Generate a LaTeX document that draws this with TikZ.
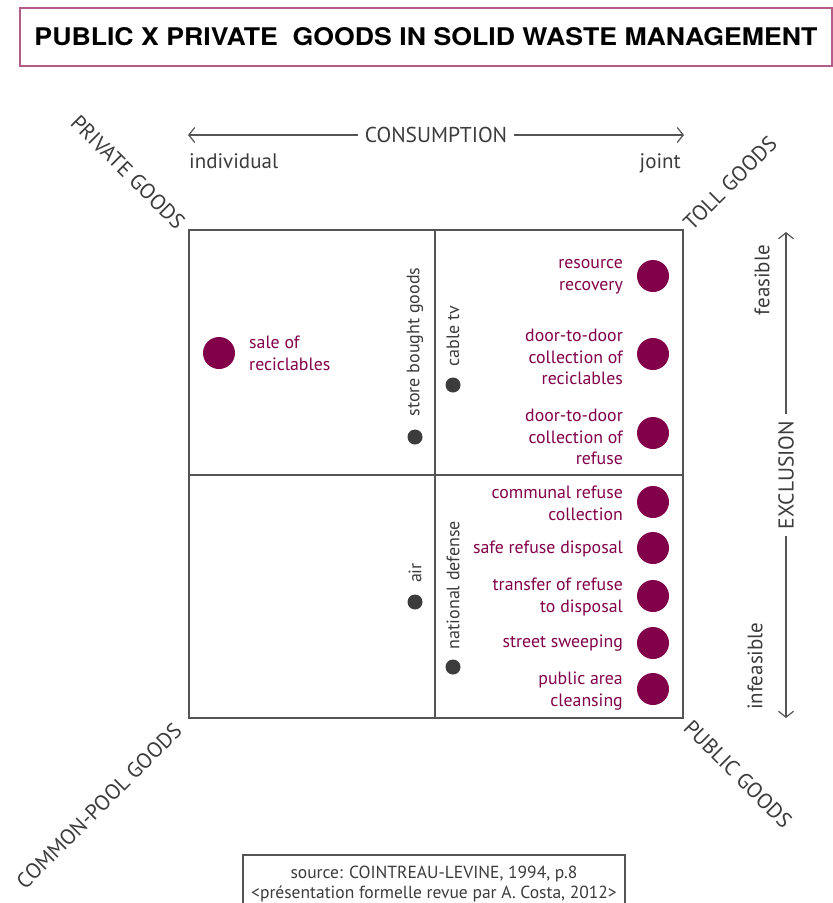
\documentclass[tikz,border=0pt]{standalone}
\usepackage{fontspec}
\setmainfont{PT Sans}
\newfontfamily\titlefont{TeX Gyre Heros}
\usetikzlibrary{arrows.meta}
\definecolor{wmaroon}{HTML}{82004A}
\definecolor{wgray}{HTML}{555555}
\definecolor{wtext}{HTML}{3C3C3C}
\definecolor{wpink}{HTML}{B35C88}
\begin{document}
\begin{tikzpicture}[x=1pt,y=-1pt,
  bigdot/.style={circle,fill=wmaroon,inner sep=0,minimum size=32pt},
  smalldot/.style={circle,fill=wtext,inner sep=0,minimum size=15pt},
  mlabel/.style={text=wmaroon,font=\fontsize{17.8}{21.8}\selectfont,align=right,anchor=east,inner sep=0},
  glabel/.style={text=wtext,font=\fontsize{18}{20}\selectfont,rotate=90,inner sep=0},
  diag/.style={text=wtext,font=\fontsize{21.5}{24}\selectfont,inner sep=0},
  axistext/.style={text=wtext,font=\fontsize{21.5}{24}\selectfont,fill=white,inner xsep=7pt,inner ysep=0pt},
  axis/.style={wgray,line width=1.2pt,-{Straight Barb[length=6pt,width=15pt]}},
  frame/.style={wgray,line width=1.6pt},
  grid/.style={wgray,line width=1.3pt}
]
\useasboundingbox (0,0) rectangle (833,903);
\fill[white] (0,0) rectangle (833,903);

% title
\node[draw=wpink,line width=1.5pt,minimum width=812pt,minimum height=58pt,inner sep=0] (title) at (426,37)
  {\resizebox{783pt}{18pt}{\titlefont\bfseries PUBLIC X PRIVATE\ \ GOODS IN SOLID WASTE MANAGEMENT}};

% consumption axis
\node[axistext] (cons) at (436,135) {CONSUMPTION};
\coordinate (cl) at (188,135);
\coordinate (cr) at (684,135);
\draw[axis] (cons) -- (cl);
\draw[axis] (cons) -- (cr);
\node[text=wtext,font=\fontsize{21}{24}\selectfont,anchor=base west,inner sep=0] (indiv) at (189,168) {individual};
\node[text=wtext,font=\fontsize{21}{24}\selectfont,anchor=base east,inner sep=0] (joint) at (681,168) {joint};

% exclusion axis
\node[axistext,rotate=90] (excl) at (786,475) {EXCLUSION};
\coordinate (et) at (786,232);
\coordinate (eb) at (786,718);
\draw[axis] (excl) -- (et);
\draw[axis] (excl) -- (eb);
\node[text=wtext,font=\fontsize{21}{24}\selectfont,rotate=90,inner sep=0] (feas) at (762,280) {feasible};
\node[text=wtext,font=\fontsize{21}{24}\selectfont,rotate=90,inner sep=0] (infeas) at (755,666) {infeasible};

% diagonal labels
\node[diag,rotate=-45] (priv) at (128,172) {PRIVATE GOODS};
\node[diag,rotate=45] (toll) at (730,183) {TOLL GOODS};
\node[diag,rotate=45] (cpool) at (99,806) {COMMON-POOL GOODS};
\node[diag,rotate=-45] (pub) at (738,774) {PUBLIC GOODS};

% square
\draw[grid] (435,230) -- (435,718);
\draw[grid] (189,475) -- (683,475);
\draw[frame] (189,230) rectangle (683,718);

% gray items
\node[smalldot] (sbg) at (415,437) {};
\node[glabel] (sbgt) at (415,342) {store bought goods};
\node[smalldot] (ctv) at (453,385) {};
\node[glabel] (ctvt) at (453,336) {cable tv};
\node[smalldot] (air) at (415,602) {};
\node[glabel] (airt) at (415,573) {air};
\node[smalldot] (nd) at (453,667) {};
\node[glabel] (ndt) at (453,585) {national defense};

% maroon items
\node[bigdot] (sale) at (219,353) {};
\node[mlabel,align=left,anchor=west] (salet) at (249,353) {sale of\\reciclables};

\node[bigdot] (rr) at (653,276) {};
\node[mlabel] (rrt) at (623,277) {resource\\recovery};
\node[bigdot] (ddr) at (653,354) {};
\node[mlabel] (ddrt) at (623,357) {door-to-door\\collection of\\reciclables};
\node[bigdot] (ddf) at (653,433) {};
\node[mlabel] (ddft) at (623,437) {door-to-door\\collection of\\refuse};
\node[bigdot] (crc) at (653,502) {};
\node[mlabel] (crct) at (623,503) {communal refuse\\collection};
\node[bigdot] (srd) at (653,548) {};
\node[mlabel] (srdt) at (623,549) {safe refuse disposal};
\node[bigdot] (trd) at (653,596) {};
\node[mlabel] (trdt) at (623,597) {transfer of refuse\\to disposal};
\node[bigdot] (ss) at (653,643) {};
\node[mlabel] (sst) at (623,643) {street sweeping};
\node[bigdot] (pac) at (653,689) {};
\node[mlabel] (pact) at (623,691) {public area\\cleansing};

% source
\node[draw=wgray,line width=1.2pt,minimum width=382pt,minimum height=56pt,inner sep=0] (srcbox) at (434,883) {};
\node[text=wtext,font=\fontsize{17.5}{20}\selectfont,align=center,inner sep=0] (src) at (434,884)
  {source: COINTREAU-LEVINE, 1994, p.8\\<présentation formelle revue par A. Costa, 2012>};
\end{tikzpicture}
\end{document}
